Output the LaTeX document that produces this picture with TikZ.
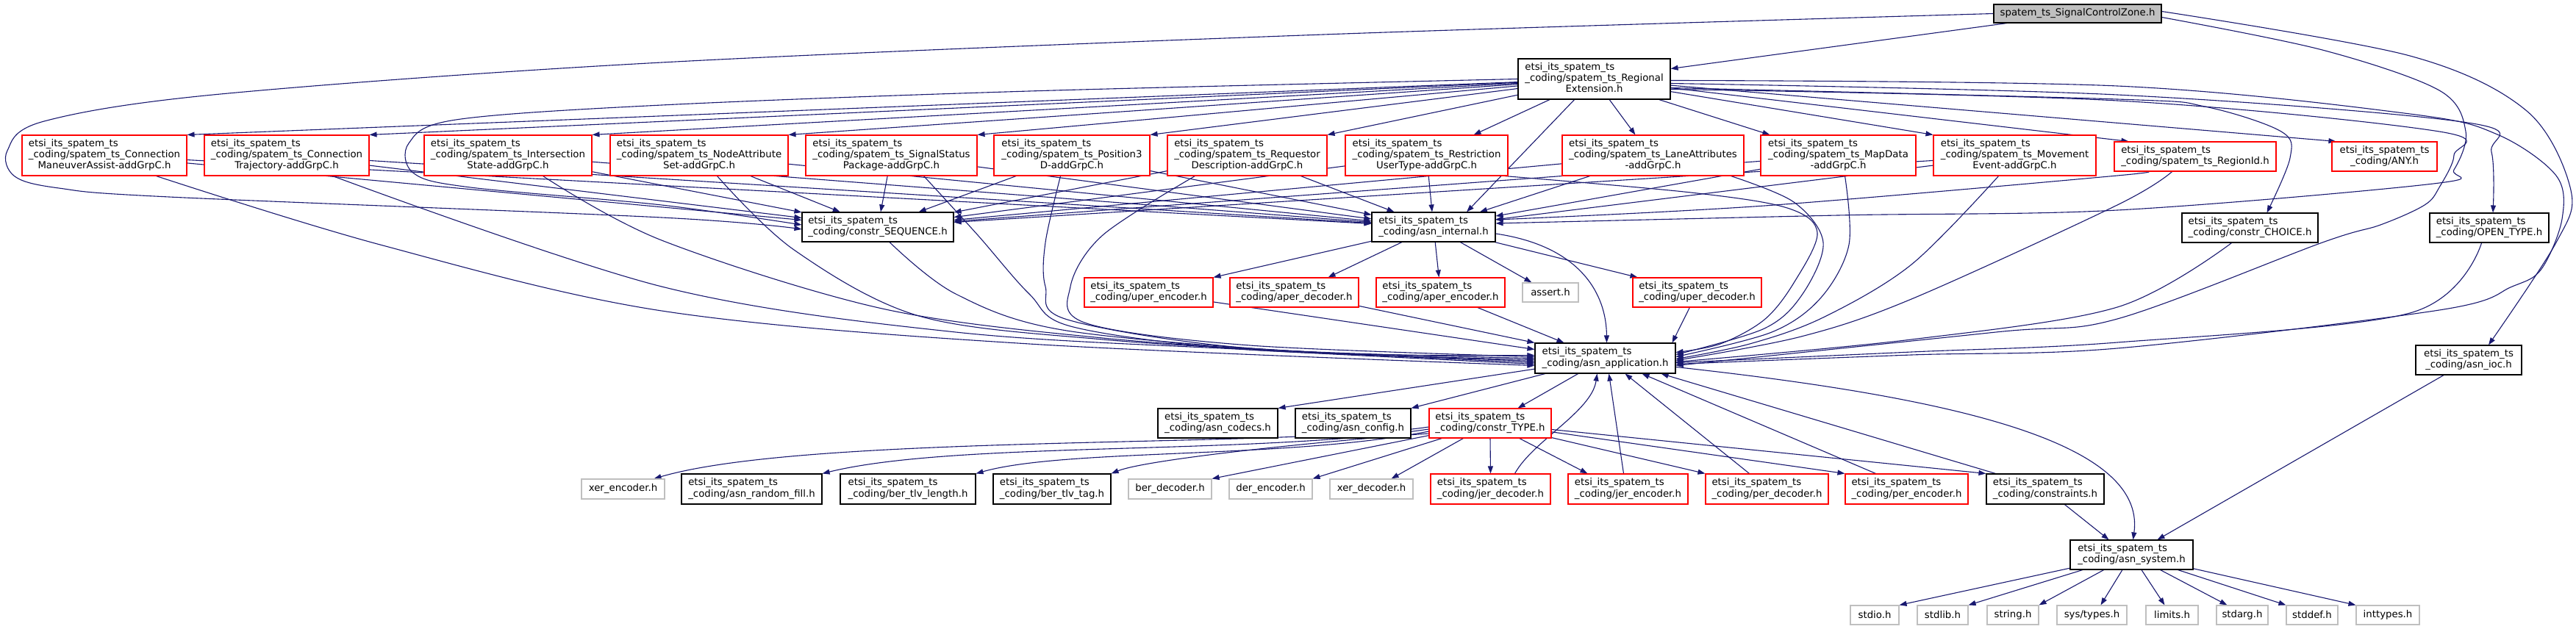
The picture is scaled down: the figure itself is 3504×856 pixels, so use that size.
\documentclass[tikz,border=0pt]{standalone}
\usepackage{fontspec}
\setmainfont{DejaVu Sans}
\usetikzlibrary{arrows.meta}
\definecolor{edgec}{HTML}{191970}
\definecolor{grayfill}{HTML}{BFBFBF}
\definecolor{grayline}{HTML}{BFBFBF}
\pgfdeclarelayer{bg}
\pgfsetlayers{bg,main}
\newcommand\dfont{\fontsize{13.3}{15.4}\selectfont}
\newcommand\Et{etsi\_its\_spatem\_ts}
\newcommand\Cd{\_coding/}
\newcommand\lthree[3]{\begin{tabular}{@{}l@{}}#1\\#2\\\multicolumn{1}{@{}c@{}}{#3}\end{tabular}}
\newcommand\ltwo[2]{\begin{tabular}{@{}l@{}}#1\\\multicolumn{1}{@{}c@{}}{#2}\end{tabular}}
\newcommand\mkbox[7]{%
  \pgfmathsetmacro\mkw{#5-#3}%
  \pgfmathsetmacro\mkh{#6-#4}%
  \pgfmathsetmacro\mkx{(#3+#5)/2}%
  \pgfmathsetmacro\mky{(#4+#6)/2}%
  \node[#2, minimum width=\mkw pt, minimum height=\mkh pt] (#1) at (\mkx,\mky) {#7};}
\tikzset{
  blackbox/.style={draw=black, fill=white, line width=1.1pt, inner sep=0pt, font=\dfont},
  redbox/.style={blackbox, draw=red},
  graybox/.style={blackbox, draw=grayline},
  topbox/.style={blackbox, fill=grayfill},
  edge/.style={draw=edgec, line width=1.1pt, -{Triangle[length=10pt,width=7pt]}},
}
\begin{document}
\begin{tikzpicture}[x=1pt,y=-1pt]
\useasboundingbox (0,0) rectangle (3504,856);
% ---- nodes
\mkbox{T}{topbox}{2712}{6}{2940}{31}{spatem\_ts\_SignalControlZone.h}
\mkbox{RE}{blackbox}{2065}{80}{2272}{135}{\lthree{\Et}{\Cd spatem\_ts\_Regional}{Extension.h}}
\mkbox{MA}{redbox}{30}{184}{254}{239}{\lthree{\Et}{\Cd spatem\_ts\_Connection}{ManeuverAssist-addGrpC.h}}
\mkbox{TR}{redbox}{278}{184}{502}{239}{\lthree{\Et}{\Cd spatem\_ts\_Connection}{Trajectory-addGrpC.h}}
\mkbox{IS}{redbox}{577}{184}{805}{239}{\lthree{\Et}{\Cd spatem\_ts\_Intersection}{State-addGrpC.h}}
\mkbox{NA}{redbox}{830}{184}{1072}{239}{\lthree{\Et}{\Cd spatem\_ts\_NodeAttribute}{Set-addGrpC.h}}
\mkbox{SS}{redbox}{1096}{184}{1329}{239}{\lthree{\Et}{\Cd spatem\_ts\_SignalStatus}{Package-addGrpC.h}}
\mkbox{PT}{redbox}{1352}{184}{1564}{239}{\lthree{\Et}{\Cd spatem\_ts\_Position3}{D-addGrpC.h}}
\mkbox{RD}{redbox}{1588}{184}{1805}{239}{\lthree{\Et}{\Cd spatem\_ts\_Requestor}{Description-addGrpC.h}}
\mkbox{RU}{redbox}{1830}{184}{2051}{239}{\lthree{\Et}{\Cd spatem\_ts\_Restriction}{UserType-addGrpC.h}}
\mkbox{LA}{redbox}{2125}{184}{2372}{239}{\lthree{\Et}{\Cd spatem\_ts\_LaneAttributes}{-addGrpC.h}}
\mkbox{MD}{redbox}{2395}{184}{2606}{239}{\lthree{\Et}{\Cd spatem\_ts\_MapData}{-addGrpC.h}}
\mkbox{ME}{redbox}{2630}{184}{2851}{239}{\lthree{\Et}{\Cd spatem\_ts\_Movement}{Event-addGrpC.h}}
\mkbox{RI}{redbox}{2876}{193}{3096}{233}{\ltwo{\Et}{\Cd spatem\_ts\_RegionId.h}}
\mkbox{ANY}{redbox}{3172}{193}{3315}{233}{\ltwo{\Et}{\Cd ANY.h}}
\mkbox{SEQ}{blackbox}{1091}{289}{1297}{329}{\ltwo{\Et}{\Cd constr\_SEQUENCE.h}}
\mkbox{INT}{blackbox}{1866}{289}{2034}{329}{\ltwo{\Et}{\Cd asn\_internal.h}}
\mkbox{CH}{blackbox}{2968}{290}{3153}{330}{\ltwo{\Et}{\Cd constr\_CHOICE.h}}
\mkbox{OT}{blackbox}{3305}{290}{3467}{330}{\ltwo{\Et}{\Cd OPEN\_TYPE.h}}
\mkbox{UE}{redbox}{1475}{378}{1650}{418}{\ltwo{\Et}{\Cd uper\_encoder.h}}
\mkbox{AD}{redbox}{1673}{378}{1848}{418}{\ltwo{\Et}{\Cd aper\_decoder.h}}
\mkbox{AE}{redbox}{1872}{378}{2047}{418}{\ltwo{\Et}{\Cd aper\_encoder.h}}
\mkbox{AS}{graybox}{2071}{385}{2147}{411}{assert.h}
\mkbox{UD}{redbox}{2221}{378}{2396}{418}{\ltwo{\Et}{\Cd uper\_decoder.h}}
\mkbox{APP}{blackbox}{2088}{467}{2279}{508}{\ltwo{\Et}{\Cd asn\_application.h}}
\mkbox{IOC}{blackbox}{3286}{470}{3430}{510}{\ltwo{\Et}{\Cd asn\_ioc.h}}
\mkbox{CO}{blackbox}{1575}{556}{1738}{596}{\ltwo{\Et}{\Cd asn\_codecs.h}}
\mkbox{CF}{blackbox}{1762}{556}{1919}{596}{\ltwo{\Et}{\Cd asn\_config.h}}
\mkbox{TY}{redbox}{1944}{556}{2110}{596}{\ltwo{\Et}{\Cd constr\_TYPE.h}}
\mkbox{XE}{graybox}{791}{652}{904}{679}{xer\_encoder.h}
\mkbox{RF}{blackbox}{927}{645}{1118}{686}{\ltwo{\Et}{\Cd asn\_random\_fill.h}}
\mkbox{TL}{blackbox}{1143}{645}{1327}{686}{\ltwo{\Et}{\Cd ber\_tlv\_length.h}}
\mkbox{TT}{blackbox}{1351}{645}{1511}{686}{\ltwo{\Et}{\Cd ber\_tlv\_tag.h}}
\mkbox{BD}{graybox}{1535}{652}{1648}{679}{ber\_decoder.h}
\mkbox{DE}{graybox}{1672}{652}{1785}{679}{der\_encoder.h}
\mkbox{XD}{graybox}{1809}{652}{1922}{679}{xer\_decoder.h}
\mkbox{JD}{redbox}{1946}{645}{2109}{686}{\ltwo{\Et}{\Cd jer\_decoder.h}}
\mkbox{JE}{redbox}{2133}{645}{2296}{686}{\ltwo{\Et}{\Cd jer\_encoder.h}}
\mkbox{PD}{redbox}{2320}{645}{2487}{686}{\ltwo{\Et}{\Cd per\_decoder.h}}
\mkbox{PE}{redbox}{2510}{645}{2677}{686}{\ltwo{\Et}{\Cd per\_encoder.h}}
\mkbox{CN}{blackbox}{2702}{645}{2862}{686}{\ltwo{\Et}{\Cd constraints.h}}
\mkbox{SYS}{blackbox}{2816}{735}{2983}{775}{\ltwo{\Et}{\Cd asn\_system.h}}
\mkbox{stdio}{graybox}{2517}{824}{2583}{850}{stdio.h}
\mkbox{stdlib}{graybox}{2608}{824}{2677}{850}{stdlib.h}
\mkbox{string}{graybox}{2703}{824}{2773}{850}{string.h}
\mkbox{systypes}{graybox}{2798}{824}{2893}{850}{sys/types.h}
\mkbox{limits}{graybox}{2919}{824}{2990}{850}{limits.h}
\mkbox{stdarg}{graybox}{3015}{824}{3085}{850}{stdarg.h}
\mkbox{stddef}{graybox}{3110}{824}{3180}{850}{stddef.h}
\mkbox{inttypes}{graybox}{3205}{824}{3291}{850}{inttypes.h}
% ---- edges
\begin{pgfonlayer}{bg}
% from SignalControlZone
\draw[edge] (T) -- (RE);
\draw[edge] plot[smooth,tension=0.55] coordinates {(T.west) (1800,47) (900,85) (300,128) (60,165) (10,205) (20,240) (80,256) (230,268) (900,296) ([yshift=-3pt]SEQ.west)};
\draw[edge] plot[smooth,tension=0.55] coordinates {([yshift=-5pt]T.east) (3159,68) (3318,123) (3354,179) (3338,231) (3310,250) (2880,286) (2500,293) ([yshift=5pt]INT.east)};
\draw[edge] plot[smooth,tension=0.55] coordinates {([yshift=3pt]T.east) (3278,76) (3437,151) (3497,259) (3477,330) ([xshift=27pt]IOC.north)};
% from RegionalExtension
\foreach \n in {MA,TR,IS,NA,SS,PT,RD}{\draw[edge] (RE) -- (\n.north east);}
\draw[edge] (RE) -- ([xshift=-47pt]RU.north east);
\draw[edge] (RE) -- ([xshift=100pt]LA.north west);
\draw[edge] (RE) -- ([xshift=13pt]MD.north west);
\draw[edge] (RE) -- (ME.north west);
\draw[edge] (RE) -- ([xshift=20pt]RI.north west);
\draw[edge] (RE) -- ([xshift=6pt]ANY.north west);
\draw[edge] (RE) -- ([xshift=45pt]INT.north);
\draw[edge] plot[smooth,tension=0.55] coordinates {(RE.west) (1400,124) (900,143) (620,163) (556,195) (563,236) (640,255) (900,279) ([yshift=3pt]SEQ.west)};
\draw[edge] plot[smooth,tension=0.55] coordinates {([yshift=-12pt]RE.east) (2880,135) (2999,145) (3103,179) (3115,215) ([xshift=23pt]CH.north)};
\draw[edge] plot[smooth,tension=0.55] coordinates {([yshift=-6pt]RE.east) (2880,129) (3357,167) (3389,207) ([xshift=5pt]OT.north)};
\draw[edge] plot[smooth,tension=0.55] coordinates {([yshift=-2pt]RE.east) (2880,117) (3278,155) (3397,183) (3477,239) (3485,298) (3457,366) (3417,390) (3318,422) (2880,474) (2600,483) ([yshift=-8pt]APP.east)};
\draw[edge] plot[smooth,tension=0.55] coordinates {([yshift=-14pt]RE.east) (2880,137) (3318,179) (3338,211) (3318,255) (3298,279) (3238,306) (3159,330) (2880,434) (2715,452) ([yshift=-10pt]APP.east)};
% addGrpC headers
\foreach \n in {MA,TR,IS,NA,SS,PT,RD,RU,LA,MD,ME}{\draw[edge] (\n) -- (SEQ); \draw[edge] (\n) -- (INT);}
\draw[edge] plot[smooth,tension=0.55] coordinates {([xshift=-42pt]MA.south east) (517,333) (900,423) (1400,468) ([yshift=-10pt]APP.west)};
\draw[edge] plot[smooth,tension=0.55] coordinates {([xshift=-50pt]TR.south east) (900,390) (1300,452) (1700,476) ([yshift=-8pt]APP.west)};
\draw[edge] plot[smooth,tension=0.55] coordinates {([xshift=-67pt]IS.south east) (900,327) (1200,420) (1500,460) (1800,480) ([yshift=-6pt]APP.west)};
\draw[edge] plot[smooth,tension=0.55] coordinates {([xshift=-97pt]NA.south east) (1080,340) (1250,430) (1500,462) (1800,480) ([yshift=-4pt]APP.west)};
\draw[edge] plot[smooth,tension=0.55] coordinates {([xshift=-73pt]SS.south east) (1330,320) (1400,400) (1460,445) (1700,476) ([yshift=-2pt]APP.west)};
\draw[edge] plot[smooth,tension=0.55] coordinates {([xshift=-122pt]PT.south east) (1422,330) (1422,390) (1452,435) (1700,474) (APP.west)};
\draw[edge] plot[smooth,tension=0.55] coordinates {([xshift=38pt]RD.south west) (1500,320) (1456,390) (1478,440) (1700,470) ([yshift=2pt]APP.west)};
\draw[edge] plot[smooth,tension=0.55] coordinates {([xshift=-5pt]RU.south east) (2300,262) (2431,283) (2472,317) (2440,385) (2400,435) (2340,468) ([yshift=8pt]APP.east)};
\draw[edge] plot[smooth,tension=0.55] coordinates {([xshift=-18pt]LA.south east) (2440,275) (2480,330) (2452,400) (2400,447) ([yshift=5pt]APP.east)};
\draw[edge] plot[smooth,tension=0.55] coordinates {([xshift=-97pt]MD.south east) (2515,333) (2477,405) (2410,452) ([yshift=2pt]APP.east)};
\draw[edge] plot[smooth,tension=0.55] coordinates {([xshift=-133pt]ME.south east) (2600,360) (2480,432) (2380,468) ([yshift=-1pt]APP.east)};
\draw[edge] plot[smooth,tension=0.55] coordinates {([xshift=-142pt]RI.south east) (2880,279) (2600,407) (2450,458) ([yshift=-3pt]APP.east)};
\draw[edge] plot[smooth,tension=0.55] coordinates {([xshift=32pt]RI.south west) (2880,239) (2400,280) ([yshift=10pt]INT.east)};
\draw[edge] plot[smooth,tension=0.55] coordinates {([xshift=-118pt]CH.south east) (2880,418) (2600,462) ([yshift=-5pt]APP.east)};
\draw[edge] plot[smooth,tension=0.55] coordinates {([xshift=-92pt]OT.south east) (3278,426) (2880,466) (2600,479) ([yshift=-6pt]APP.east)};
% SEQUENCE, internal
\draw[edge] plot[smooth,tension=0.55] coordinates {([xshift=16pt]SEQ.south) (1300,400) (1451,450) (1800,480) ([yshift=4pt]APP.west)};
\draw[edge] (INT) -- (UE.north east);
\draw[edge] (INT) -- ([xshift=-42pt]AD.north east);
\draw[edge] (INT) -- (AE);
\draw[edge] (INT) -- ([xshift=13pt]AS.north west);
\draw[edge] (INT) -- ([xshift=7pt]UD.north west);
\draw[edge] ([yshift=-9pt]INT.east) .. controls (2150,335) and (2185,400) .. ([xshift=2pt]APP.north);
\draw[edge] (UE) -- ([yshift=12pt]APP.west);
\draw[edge] (AD) -- (APP.north west);
\draw[edge] (AE) -- ([xshift=40pt]APP.north west);
\draw[edge] (UD) -- ([xshift=-5pt]APP.north east);
% asn_application
\draw[edge] (APP) -- (CO.north east);
\draw[edge] (APP) -- (CF.north east);
\draw[edge] (APP) -- ([xshift=-46pt]TY.north east);
\draw[edge] ([yshift=-12pt]APP.east) .. controls (2650,540) and (2920,600) .. ([xshift=2pt]SYS.north);
% constr_TYPE
\draw[edge] ([yshift=-5pt]TY.west) .. controls (1750,610) and (1100,590) .. ([xshift=-15pt]XE.north east);
\draw[edge] ([yshift=-8pt]TY.west) .. controls (1700,620) and (1300,600) .. (RF.north east);
\draw[edge] ([yshift=-11pt]TY.west) .. controls (1750,625) and (1450,610) .. (TL.north east);
\draw[edge] ([yshift=-14pt]TY.west) .. controls (1800,600) and (1560,625) .. (TT.north east);
\draw[edge] (TY) -- (BD.north east);
\draw[edge] (TY) -- (DE.north east);
\draw[edge] (TY) -- ([xshift=-30pt]XD.north east);
\draw[edge] (TY.south) -- (JD.north);
\draw[edge] (TY) -- ([xshift=27pt]JE.north west);
\draw[edge] (TY) -- (PD.north west);
\draw[edge] (TY) -- (PE.north west);
\draw[edge] (TY) -- (CN.north west);
% back to asn_application
\draw[edge] ([xshift=33pt]JD.north) .. controls (2085,600) and (2165,560) .. ([xshift=-11pt]APP.south);
\draw[edge] ([xshift=-6pt]JE.north) -- ([xshift=5pt]APP.south);
\draw[edge] ([xshift=-24pt]PD.north) -- ([xshift=27pt]APP.south);
\draw[edge] ([xshift=-42pt]PE.north) -- ([xshift=50pt]APP.south);
\draw[edge] ([xshift=13pt]CN.north west) -- ([xshift=-20pt]APP.south east);
% asn_system
\draw[edge] (CN) -- ([xshift=-31pt]SYS.north);
\draw[edge] ([xshift=-34pt]IOC.south) -- ([xshift=35pt]SYS.north);
\draw[edge] (SYS) -- (stdio.north east);
\draw[edge] (SYS) -- (stdlib.north east);
\draw[edge] (SYS) -- (string.north east);
\draw[edge] (SYS) -- ([xshift=60pt]systypes.north west);
\draw[edge] (SYS) -- ([xshift=26pt]limits.north west);
\draw[edge] (SYS) -- ([xshift=15pt]stdarg.north west);
\draw[edge] (SYS) -- (stddef.north west);
\draw[edge] (SYS) -- (inttypes.north west);
\end{pgfonlayer}
\end{tikzpicture}
\end{document}
